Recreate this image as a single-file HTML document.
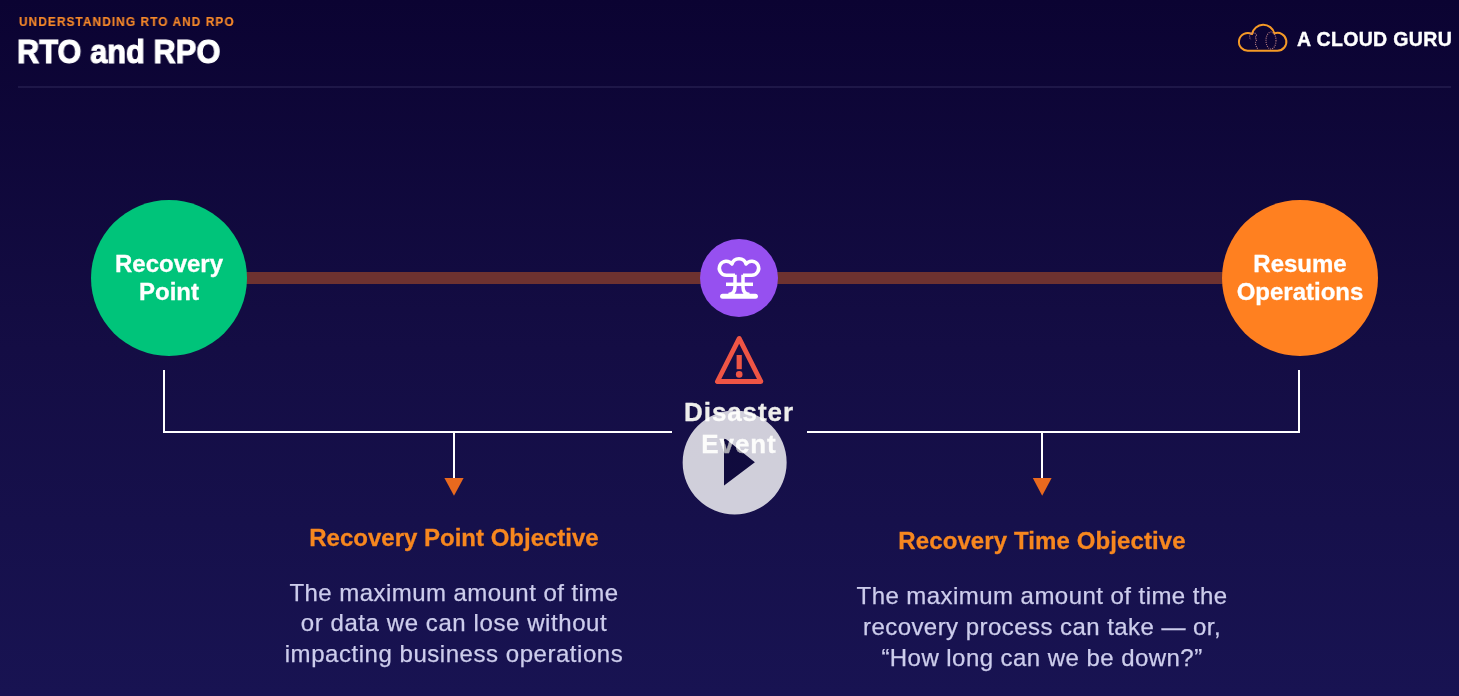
<!DOCTYPE html>
<html>
<head>
<meta charset="utf-8">
<style>
html,body{margin:0;padding:0;}
body{width:1459px;height:696px;overflow:hidden;position:relative;
  background:linear-gradient(180deg,#0b0332 0%,#140d44 50%,#181352 100%);
  font-family:"Liberation Sans",sans-serif;}
.a{position:absolute;white-space:nowrap;will-change:transform;}
.t{position:absolute;white-space:nowrap;text-align:center;will-change:transform;}
#kicker{left:19.3px;top:14.7px;font-size:13px;line-height:13px;font-weight:bold;color:#f5882a;letter-spacing:1.2px;-webkit-text-stroke:0.2px #f5882a;transform:scaleX(0.91);transform-origin:0 0;}
#title{left:17px;top:34.9px;font-size:33px;line-height:33px;font-weight:bold;color:#fff;letter-spacing:0.1px;-webkit-text-stroke:1.1px #fff;transform:scaleX(0.93);transform-origin:0 0;}
#rule{left:18px;top:86px;width:1433px;height:2px;background:#1e1748;}
#logotext{left:1297px;top:30.2px;font-size:19.5px;line-height:19.5px;font-weight:bold;color:#fff;letter-spacing:0.35px;-webkit-text-stroke:0.4px #fff;}
.circle{position:absolute;border-radius:50%;}
#bar{left:246px;top:272px;width:978px;height:12px;background:#6e3230;}
#green{left:91px;top:200px;width:156px;height:156px;background:#00c47a;}
#orange{left:1222px;top:200px;width:156px;height:156px;background:#ff8020;}
#purple{left:700px;top:239px;width:78px;height:78px;background:#9650f0;}
.ctext{font-size:24px;line-height:24px;font-weight:bold;color:#fff;width:300px;-webkit-text-stroke:0.3px #fff;}
.dtext{font-size:26px;line-height:26px;font-weight:bold;color:#eeeeeb;width:300px;letter-spacing:0.9px;-webkit-text-stroke:0.3px #eeeeeb;}
.line{position:absolute;background:#fff;}
.head{font-size:24px;line-height:24px;font-weight:bold;color:#f7871f;width:600px;-webkit-text-stroke:0.3px #f7871f;}
.body{font-size:24px;line-height:24px;color:#cdcdec;width:600px;letter-spacing:0.45px;-webkit-text-stroke:0.25px #cdcdec;}
#play{left:683px;top:411px;width:104px;height:104px;background:rgba(210,209,220,0.93);}
</style>
</head>
<body>
<div id="kicker" class="a">UNDERSTANDING RTO AND RPO</div>
<div id="title" class="a">RTO and RPO</div>
<div id="rule" class="a"></div>

<svg class="a" style="left:1236px;top:20px" width="56" height="36" viewBox="0 0 56 36">
  <path d="M13 30.7 A8.9 8.9 0 1 1 16.03 14.03 A11.5 11.5 0 0 1 38.44 13.44 A8.9 8.9 0 1 1 41.5 30.7 Z" fill="none" stroke="#f59a26" stroke-width="2" stroke-linejoin="round"/>
  <g fill="none" stroke="#c98a8a" stroke-width="1.1" stroke-dasharray="1 1.1" opacity="0.95">
    <path d="M14.5 13.5 Q19.5 11.5 20.5 15.5 L19.2 17.8 L20.8 20 Q18.8 22 19.8 25 Q20.5 27.5 22 29"/><path d="M14.5 13.5 Q12.5 17 15 19.5"/>
    <ellipse cx="35" cy="20.5" rx="5" ry="8.5"/>
  </g>
</svg>
<div id="logotext" class="a">A CLOUD GURU</div>

<div id="bar" class="a"></div>
<div id="green" class="circle"></div>
<div id="orange" class="circle"></div>
<div id="purple" class="circle"></div>

<div class="t ctext" style="left:19px;top:251.9px">Recovery</div>
<div class="t ctext" style="left:19px;top:279.6px">Point</div>
<div class="t ctext" style="left:1150px;top:251.9px">Resume</div>
<div class="t ctext" style="left:1150px;top:279.6px">Operations</div>

<svg class="a" style="left:714px;top:252px" width="50" height="50" viewBox="0 0 50 50">
  <g fill="none" stroke="#fff" stroke-width="3.5">
    <path d="M21 23.2 H12.3 A7 7 0 1 1 17.96 12.08 A7.3 7.3 0 0 1 32.04 12.08 A7 7 0 1 1 37.7 23.2 H29" stroke-linejoin="round"/>
    <path d="M21 22.8 V35 Q21 42 14.5 42.5"/>
    <path d="M29 22.8 V35 Q29 42 35.5 42.5"/>
    <path d="M12 32.3 H39"/>
    <path d="M8.6 44.2 H41.4" stroke-width="5" stroke-linecap="round"/>
  </g>
</svg>

<svg class="a" style="left:709px;top:330px" width="60" height="60" viewBox="0 0 60 60">
  <polygon points="30.2,8.4 8.4,51.5 51.9,51.5" fill="none" stroke="#ef5545" stroke-width="4.8" stroke-linejoin="round"/>
  <rect x="27.6" y="25" width="5.2" height="14.2" fill="#ef5545"/>
  <circle cx="30.2" cy="44.4" r="3.3" fill="#ef5545"/>
</svg>

<div class="t dtext" style="left:589px;top:398.8px">Disaster</div>
<div class="t dtext" style="left:589px;top:430.5px">Event</div>

<!-- bracket lines -->
<div class="line" style="left:163px;top:370px;width:2px;height:63px"></div>
<div class="line" style="left:163px;top:431px;width:509px;height:2px"></div>
<div class="line" style="left:807px;top:431px;width:493px;height:2px"></div>
<div class="line" style="left:1298px;top:370px;width:2px;height:63px"></div>
<div class="line" style="left:453px;top:432px;width:2px;height:47px"></div>
<div class="line" style="left:1041px;top:432px;width:2px;height:47px"></div>
<svg class="a" style="left:444px;top:478px" width="20" height="18" viewBox="0 0 20 18"><polygon points="0.4,0 19.6,0 10,17.8" fill="#e8691e"/></svg>
<svg class="a" style="left:1032px;top:478px" width="20" height="18" viewBox="0 0 20 18"><polygon points="0.8,0 19.6,0 10.2,17.8" fill="#e8691e"/></svg>

<div class="t head" style="left:154px;top:526px">Recovery Point Objective</div>
<div class="t body" style="left:154px;top:580.6px">The maximum amount of time</div>
<div class="t body" style="left:154px;top:611px;letter-spacing:0.58px">or data we can lose without</div>
<div class="t body" style="left:154px;top:641.6px;letter-spacing:0.54px">impacting business operations</div>

<div class="t head" style="left:742px;top:528.9px;letter-spacing:0.1px">Recovery Time Objective</div>
<div class="t body" style="left:742px;top:584.1px">The maximum amount of time the</div>
<div class="t body" style="left:742px;top:615px">recovery process can take — or,</div>
<div class="t body" style="left:742px;top:646px">“How long can we be down?”</div>

<svg class="a" style="left:680px;top:408px" width="110" height="110" viewBox="680 408 110 110">
  <path fill-rule="evenodd" fill="rgba(255,255,255,0.8)" d="M734.65 410.5 A52 52 0 1 1 734.65 514.5 A52 52 0 1 1 734.65 410.5 Z M724 440.2 Q724 437.8 726 439.2 L754.8 462.2 L724 485.4 Z"/>
  <path fill="rgba(8,4,36,0.3)" d="M724 440.2 Q724 437.8 726 439.2 L754.8 462.2 L724 485.4 Z"/>
</svg>
</body>
</html>
